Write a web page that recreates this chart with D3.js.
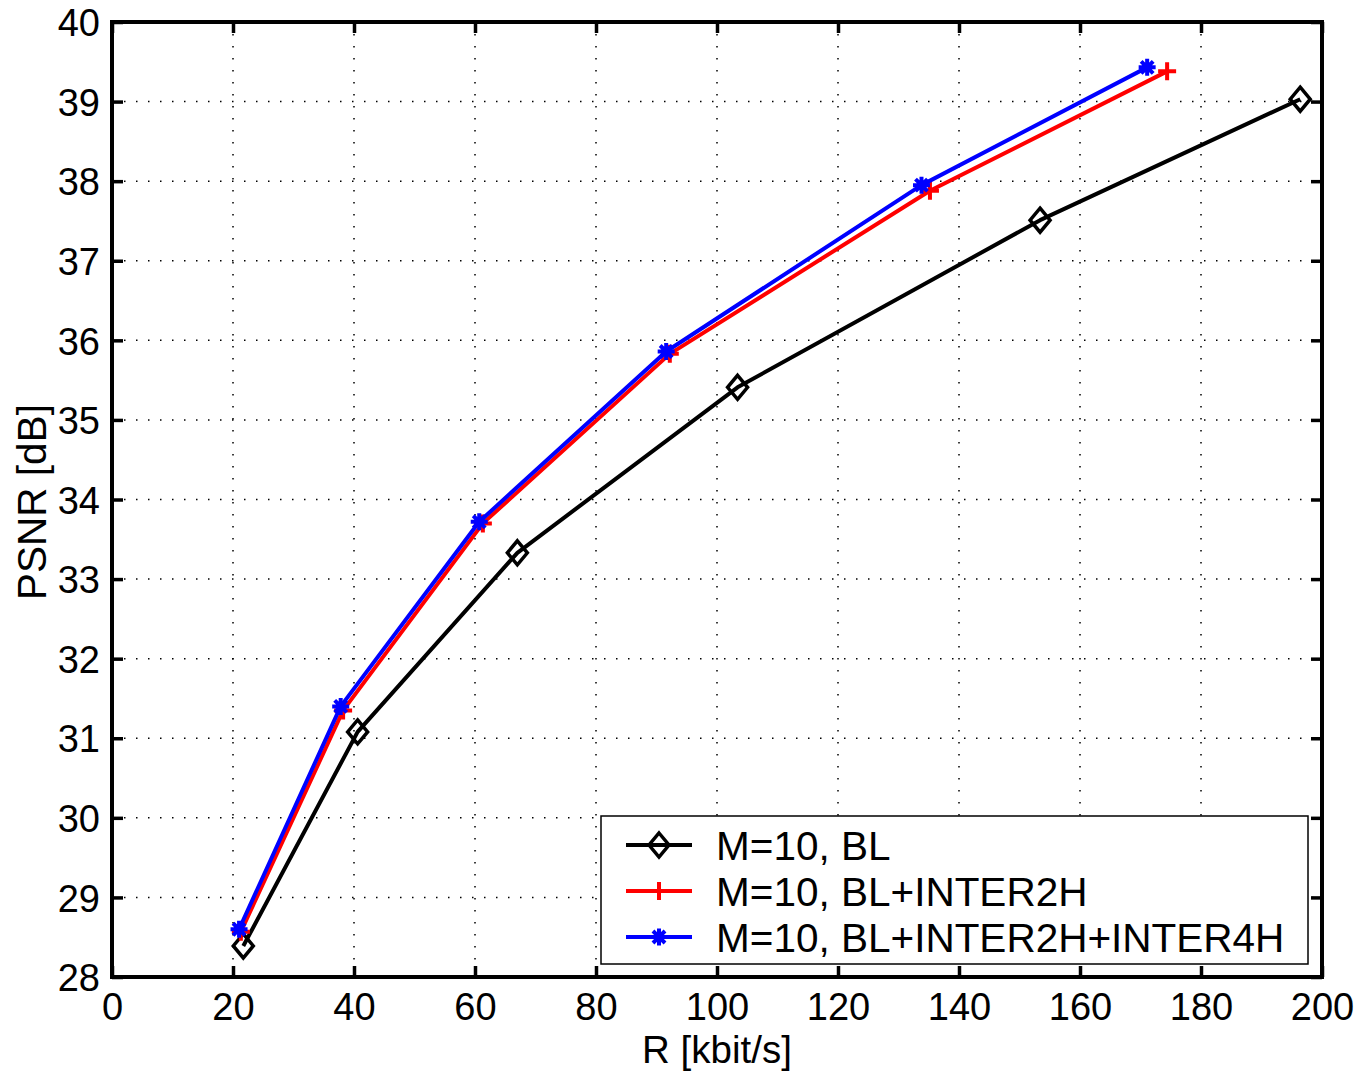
<!DOCTYPE html>
<html><head><meta charset="utf-8">
<script src="https://cdn.jsdelivr.net/npm/d3@7"></script>
<style>body{margin:0;background:#fff}svg{display:block}text{font-family:"Liberation Sans",Arial,sans-serif}</style>
</head><body><div id="chart"></div>
<script>
const xTicks = [0,20,40,60,80,100,120,140,160,180,200];
const yTicks = [28,29,30,31,32,33,34,35,36,37,38,39,40];
const seriesNames = ["M=10, BL","M=10, BL+INTER2H","M=10, BL+INTER2H+INTER4H"];
const blR    = [21.7, 40.6, 67.0, 103.4, 153.4, 196.4];
const blPSNR = [28.39, 31.08, 33.33, 35.41, 37.51, 39.03];
const i2R    = [21.3, 38.2, 61.3, 92.2, 135.2, 174.4];
const i2PSNR = [28.57, 31.35, 33.70, 35.83, 37.88, 39.38];
const i4R    = [21.0, 37.8, 60.7, 91.6, 133.8, 171.1];
const i4PSNR = [28.60, 31.40, 33.72, 35.86, 37.95, 39.43];

const W = 1359, H = 1073;
const L = 112, R = 1322, T = 22, B = 977;
const svg = d3.select("#chart").append("svg").attr("width", W).attr("height", H);
const x = d3.scaleLinear().domain([0,200]).range([L,R]);
const y = d3.scaleLinear().domain([28,40]).range([B,T]);

// grid
const grid = svg.append("g").attr("stroke","#000").attr("stroke-width",1.5).attr("stroke-dasharray","1.5,10.5");
grid.selectAll("line.gx").data(xTicks.slice(1,-1)).join("line")
  .attr("x1",d=>x(d)).attr("x2",d=>x(d)).attr("y1",T).attr("y2",B);
grid.selectAll("line.gy").data(yTicks.slice(1,-1)).join("line")
  .attr("y1",d=>y(d)).attr("y2",d=>y(d)).attr("x1",L).attr("x2",R);

// axes
const fs = 38;
const xAxis = d3.axisBottom(x).tickValues(xTicks).tickSize(-11).tickPadding(16).tickSizeOuter(0);
const gx = svg.append("g").attr("transform",`translate(0,${B})`).call(xAxis);
const xAxisTop = d3.axisTop(x).tickValues(xTicks).tickSize(-11).tickFormat("").tickSizeOuter(0);
const gxt = svg.append("g").attr("transform",`translate(0,${T})`).call(xAxisTop);
const yAxis = d3.axisLeft(y).tickValues(yTicks).tickSize(-11).tickPadding(12).tickSizeOuter(0);
const gy = svg.append("g").attr("transform",`translate(${L},0)`).call(yAxis);
const yAxisR = d3.axisRight(y).tickValues(yTicks).tickSize(-11).tickFormat("").tickSizeOuter(0);
const gyr = svg.append("g").attr("transform",`translate(${R},0)`).call(yAxisR);
[gx,gxt,gy,gyr].forEach(g=>{
  g.select(".domain").remove();
  g.selectAll(".tick line").attr("stroke","#000").attr("stroke-width",3.5);
  g.selectAll("text").attr("fill","#000").attr("font-size",fs).attr("font-family",'"Liberation Sans",Arial,sans-serif');
});
gx.selectAll("text").attr("dy","0.71em");
gy.selectAll("text").attr("dy","0.36em");
svg.append("rect").attr("x",L).attr("y",T).attr("width",R-L).attr("height",B-T)
  .attr("fill","none").attr("stroke","#000").attr("stroke-width",4);

svg.append("text").attr("x",717).attr("y",1063).attr("text-anchor","middle")
  .attr("font-size",38.5).text("R [kbit/s]");
svg.append("text").attr("transform",`translate(46,502) rotate(-90)`).attr("text-anchor","middle")
  .attr("font-size",40.5).text("PSNR [dB]");

const series = [
  {name:seriesNames[0], color:"#000", marker:"diamond", xs:blR, ys:blPSNR},
  {name:seriesNames[1], color:"#ff0000", marker:"plus", xs:i2R, ys:i2PSNR},
  {name:seriesNames[2], color:"#0000ff", marker:"star", xs:i4R, ys:i4PSNR}
];
function drawMarker(g, type, cx, cy, color){
  if(type==="diamond"){
    g.append("path").attr("d",`M${cx},${cy-12}L${cx+10},${cy}L${cx},${cy+12}L${cx-10},${cy}Z`)
      .attr("fill","none").attr("stroke",color).attr("stroke-width",3.5);
  } else if(type==="plus"){
    g.append("path").attr("d",`M${cx-9},${cy}H${cx+9}M${cx},${cy-9}V${cy+9}`)
      .attr("stroke",color).attr("stroke-width",4);
  } else {
    const r=8.5; let d="";
    for(let k=0;k<4;k++){const a=k*Math.PI/4; d+=`M${cx-r*Math.cos(a)},${cy-r*Math.sin(a)}L${cx+r*Math.cos(a)},${cy+r*Math.sin(a)}`;}
    g.append("path").attr("d",d).attr("stroke",color).attr("stroke-width",4);
    g.append("circle").attr("cx",cx).attr("cy",cy).attr("r",4.5).attr("fill",color);
  }
}
const line = d3.line().x(d=>x(d[0])).y(d=>y(d[1]));
series.forEach(s=>{
  const pts = s.xs.map((v,i)=>[v,s.ys[i]]);
  const g = svg.append("g");
  g.append("path").attr("d",line(pts)).attr("fill","none").attr("stroke",s.color).attr("stroke-width",4).attr("stroke-linejoin","round");
  pts.forEach(p=>drawMarker(g,s.marker,x(p[0]),y(p[1]),s.color));
});

// legend
const lg = svg.append("g");
lg.append("rect").attr("x",601).attr("y",816).attr("width",707).attr("height",148)
  .attr("fill","#fff").attr("stroke","#000").attr("stroke-width",1.5);
series.forEach((s,i)=>{
  const cy = 845 + i*46;
  lg.append("line").attr("x1",626).attr("x2",692).attr("y1",cy).attr("y2",cy).attr("stroke",s.color).attr("stroke-width",4);
  drawMarker(lg,s.marker,659,cy,s.color);
  lg.append("text").attr("x",716).attr("y",cy).attr("dy","0.36em").attr("font-size",40.5).attr("fill","#000").text(s.name);
});
</script></body></html>
